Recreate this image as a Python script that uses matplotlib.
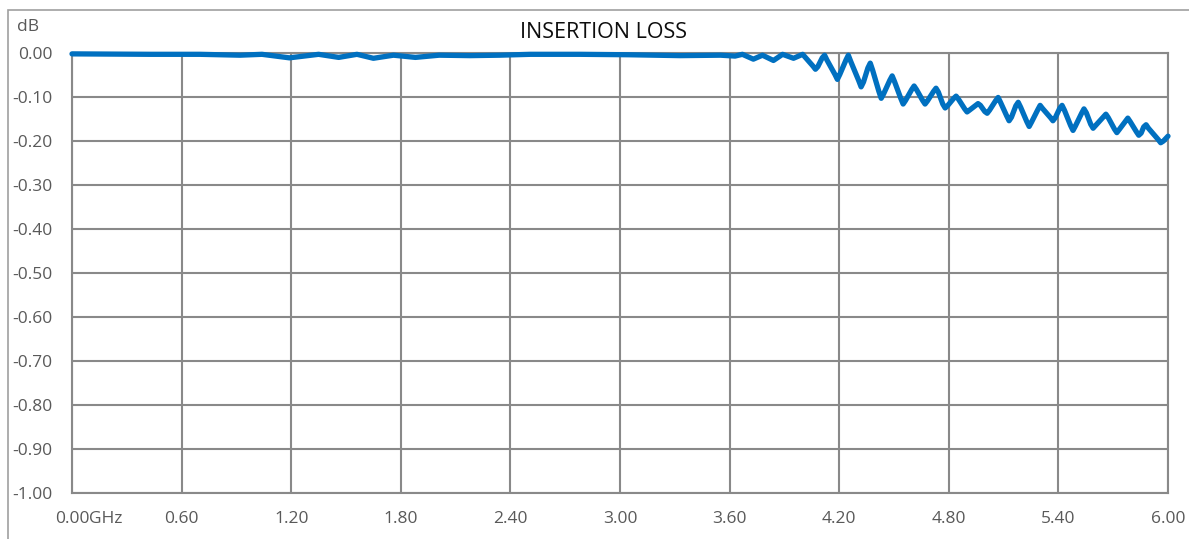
# insertion loss sweep, 0 - 6 GHz

import matplotlib
matplotlib.use('Agg')
import matplotlib.pyplot as plt
from matplotlib.patches import Rectangle

# frequency in GHz and loss in dB
freq_ghz = [0.00, 0.43, 0.70, 0.92, 1.04, 1.19, 1.35, 1.46, 1.56, 1.65, 1.76, 1.88,
            2.01, 2.18, 2.34, 2.51, 2.78, 3.05, 3.33, 3.55, 3.63, 3.67, 3.73, 3.78,
            3.84, 3.89, 3.95, 4.00,
            4.057, 4.07, 4.083, 4.107, 4.12, 4.133, 4.177, 4.19, 4.203, 4.237, 4.25, 4.263,
            4.307, 4.32, 4.333, 4.357, 4.37, 4.383, 4.417, 4.43, 4.443, 4.477, 4.49, 4.503,
            4.537, 4.55, 4.563, 4.597, 4.61, 4.623, 4.657, 4.67, 4.683, 4.717, 4.73, 4.743,
            4.767, 4.78, 4.793, 4.827, 4.84, 4.853, 4.887, 4.90, 4.913, 4.947, 4.96, 4.973,
            4.997, 5.01, 5.023, 5.057, 5.07, 5.083, 5.117, 5.13, 5.143, 5.167, 5.18, 5.193,
            5.227, 5.24, 5.253, 5.287, 5.30, 5.313, 5.357, 5.37, 5.383, 5.407, 5.42, 5.433,
            5.467, 5.48, 5.493, 5.527, 5.54, 5.553, 5.577, 5.59, 5.603, 5.647, 5.66, 5.673,
            5.707, 5.72, 5.733, 5.767, 5.78, 5.793, 5.827, 5.84, 5.853, 5.867, 5.88, 5.893,
            5.947, 5.96, 5.975, 6.00]
loss_db = [-0.002, -0.003, -0.003, -0.005, -0.003, -0.011, -0.003, -0.010, -0.003, -0.012, -0.005, -0.010,
           -0.005, -0.006, -0.005, -0.003, -0.003, -0.004, -0.006, -0.005, -0.007, -0.003, -0.014, -0.005,
           -0.017, -0.003, -0.012, -0.003,
           -0.030, -0.037, -0.031, -0.011, -0.005, -0.016, -0.049, -0.060, -0.049, -0.016, -0.005, -0.019,
           -0.063, -0.077, -0.066, -0.034, -0.023, -0.039, -0.087, -0.103, -0.093, -0.062, -0.052, -0.065,
           -0.103, -0.116, -0.108, -0.083, -0.075, -0.083, -0.108, -0.116, -0.109, -0.087, -0.080, -0.089,
           -0.116, -0.125, -0.120, -0.103, -0.098, -0.105, -0.127, -0.134, -0.130, -0.119, -0.115, -0.119,
           -0.133, -0.137, -0.130, -0.108, -0.101, -0.112, -0.143, -0.154, -0.146, -0.120, -0.112, -0.123,
           -0.156, -0.167, -0.157, -0.129, -0.119, -0.126, -0.147, -0.154, -0.147, -0.126, -0.119, -0.130,
           -0.165, -0.176, -0.166, -0.137, -0.127, -0.136, -0.162, -0.171, -0.165, -0.145, -0.139, -0.147,
           -0.173, -0.181, -0.174, -0.155, -0.148, -0.156, -0.179, -0.187, -0.182, -0.168, -0.163, -0.171,
           -0.197, -0.204, -0.200, -0.189]

x_ticks = [0.0, 0.6, 1.2, 1.8, 2.4, 3.0, 3.6, 4.2, 4.8, 5.4, 6.0]
x_labels = ['0.00', '0.60', '1.20', '1.80', '2.40', '3.00', '3.60', '4.20', '4.80', '5.40', '6.00']
y_ticks = [0.0, -0.1, -0.2, -0.3, -0.4, -0.5, -0.6, -0.7, -0.8, -0.9, -1.0]
y_labels = ['0.00', '-0.10', '-0.20', '-0.30', '-0.40', '-0.50', '-0.60', '-0.70', '-0.80', '-0.90', '-1.00']

plt.rcParams['font.family'] = ['Open Sans', 'DejaVu Sans']
grid_col = '#898989'
text_col = '#595959'

fig = plt.figure(figsize=(11.89, 5.39), dpi=100)
ax = fig.add_axes([72/1189, 1 - 493/539, 1096/1189, 440/539])

ax.plot(freq_ghz, loss_db, color='#0070C0', linewidth=3.8, solid_joinstyle='round',
        solid_capstyle='round', clip_on=False, zorder=3)

ax.set_xlim(0, 6)
ax.set_ylim(-1, 0)
ax.set_xticks(x_ticks)
ax.set_xticklabels(x_labels)
ax.set_yticks(y_ticks)
ax.set_yticklabels(y_labels)
ax.tick_params(axis='both', length=0, labelsize=12.5, labelcolor=text_col)
ax.tick_params(axis='x', pad=13)
ax.tick_params(axis='y', pad=14)
ax.grid(True, color=grid_col, linewidth=1.5)
ax.set_axisbelow(True)
for s in ax.spines.values():
    s.set_color(grid_col)
    s.set_linewidth(1.5)

# unit after first x label
ax.annotate('GHz', xy=(0, 0), xycoords=('data', 'axes fraction'), xytext=(12.6, -13),
            textcoords='offset points', ha='left', va='top', fontsize=12.5, color=text_col)

fig.text(17/1189, 1 - 27/539, 'dB', fontsize=12.5, color=text_col, ha='left', va='center')
fig.text(604/1189, 1 - 33/539, 'INSERTION LOSS', fontsize=15.5, color='#0d0d0d',
         ha='center', va='center')

# chart area border
fig.patches.append(Rectangle((8/1189, -0.1), 1.2, 1.1 - 9.5/539, transform=fig.transFigure,
                             fill=False, edgecolor='#a0a0a0', linewidth=1.2))

fig.savefig('out.png', dpi=100)
